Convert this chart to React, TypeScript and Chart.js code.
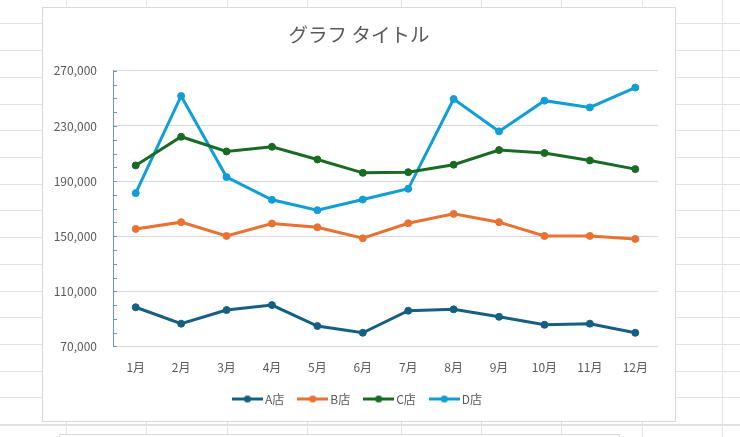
import React, { useEffect, useRef } from "react";
import { Chart, registerables } from "chart.js";

Chart.register(...registerables);

const TITLE = "グラフ タイトル";
const MONTHS = ["1月", "2月", "3月", "4月", "5月", "6月", "7月", "8月", "9月", "10月", "11月", "12月"];
const SERIES_NAMES = ["A店", "B店", "C店", "D店"];
const SERIES_COLORS = ["#156082", "#E97132", "#196B24", "#0F9ED5"];
const A_VALUES = [98400, 86500, 96400, 100000, 84800, 79900, 95900, 96900, 91500, 85700, 86500, 79900];
const B_VALUES = [155300, 160200, 150200, 159200, 156500, 148500, 159400, 166200, 160200, 150200, 150200, 148000];
const C_VALUES = [201400, 222200, 211500, 214900, 205700, 196000, 196500, 201900, 212500, 210400, 205000, 198700];
const D_VALUES = [181300, 251800, 192900, 176400, 168900, 176600, 184400, 249600, 226100, 248400, 243500, 257900];
const Y_MIN = 70000;
const Y_MAX = 270000;
const Y_STEP = 40000;
const Y_MINOR_STEP = 10000;

const FONT = "'Noto Sans CJK JP', 'Noto Sans', sans-serif";
const TEXT_COLOR = "#595959";
const GRID_COLOR = "#d9d9d9";
const AXIS_COLOR = "#6a98b8";
const SHEET_LINE = "#e2e2e2";

const SHEET_ROWS = [23, 50, 77, 104, 130, 157, 184, 210, 237, 264, 291, 317, 344, 371, 397, 424];
const SHEET_COLS = [65.5, 146, 226.5, 306.5, 400.5, 480.5, 561, 641.5, 721.5];

function legendMarker(color: string): HTMLCanvasElement {
  const c = document.createElement("canvas");
  c.width = 31;
  c.height = 9;
  const ctx = c.getContext("2d")!;
  ctx.strokeStyle = color;
  ctx.lineWidth = 3;
  ctx.beginPath();
  ctx.moveTo(0, 4.5);
  ctx.lineTo(31, 4.5);
  ctx.stroke();
  ctx.fillStyle = color;
  ctx.beginPath();
  ctx.arc(15.5, 4.5, 3.6, 0, Math.PI * 2);
  ctx.fill();
  return c;
}

const minorTicks = {
  id: "minorTicks",
  afterDatasetsDraw(chart: any) {
    const y = chart.scales.y;
    const ctx = chart.ctx;
    const left = Math.round(chart.chartArea.left);
    ctx.save();
    ctx.strokeStyle = AXIS_COLOR;
    ctx.lineWidth = 1;
    for (let v = Y_MIN; v <= Y_MAX; v += Y_MINOR_STEP) {
      const py = Math.round(y.getPixelForValue(v)) + 0.5;
      ctx.beginPath();
      ctx.moveTo(left, py);
      ctx.lineTo(left + 4, py);
      ctx.stroke();
    }
    ctx.restore();
  },
};

export default function App() {
  const canvasRef = useRef<HTMLCanvasElement>(null);

  useEffect(() => {
    if (!canvasRef.current) return;
    const allValues = [A_VALUES, B_VALUES, C_VALUES, D_VALUES];
    const chart = new Chart(canvasRef.current, {
      type: "line",
      data: {
        labels: MONTHS,
        datasets: SERIES_NAMES.map((name, i) => ({
          label: name,
          data: allValues[i],
          yAxisID: "y",
          borderColor: SERIES_COLORS[i],
          backgroundColor: SERIES_COLORS[i],
          borderWidth: 3,
          pointRadius: 3.5,
          pointBorderWidth: 1,
          pointStyle: "circle",
          tension: 0,
          fill: false,
        })) as any,
      },
      options: {
        animation: false,
        responsive: true,
        maintainAspectRatio: false,
        layout: { padding: { left: 0, right: 0, top: 0, bottom: 6 } },
        plugins: {
          title: {
            display: true,
            text: TITLE,
            color: TEXT_COLOR,
            font: { family: FONT, size: 19.5, weight: "normal" as any },
            padding: { top: 15, bottom: 24.5 },
          },
          legend: {
            position: "bottom",
            labels: {
              usePointStyle: true,
              pointStyleWidth: 23,
              padding: 17,
              color: TEXT_COLOR,
              font: { family: FONT, size: 12 },
              generateLabels: (ch: any) =>
                ch.data.datasets.map((ds: any, i: number) => ({
                  text: ds.label,
                  fillStyle: ds.borderColor,
                  strokeStyle: ds.borderColor,
                  lineWidth: 0,
                  pointStyle: legendMarker(ds.borderColor),
                  fontColor: TEXT_COLOR,
                  hidden: false,
                  datasetIndex: i,
                })),
            },
          },
          tooltip: { enabled: false },
        },
        scales: {
          x: {
            offset: true,
            grid: { display: false, drawTicks: false },
            border: { display: false },
            ticks: { color: TEXT_COLOR, font: { family: FONT, size: 12 }, padding: 14 },
            afterFit: (s: any) => {
              s.height = 29.6;
            },
          },
          y: {
            position: "left",
            min: Y_MIN,
            max: Y_MAX,
            grid: { color: GRID_COLOR, drawTicks: false, lineWidth: 1 },
            border: { display: true, color: AXIS_COLOR, width: 1 },
            ticks: {
              stepSize: Y_STEP,
              color: TEXT_COLOR,
              font: { family: FONT, size: 12 },
              padding: 16,
              callback: (v: any) => Number(v).toLocaleString("en-US"),
            },
            afterFit: (s: any) => {
              s.width = 70;
            },
          },
          yRightSpace: {
            position: "right",
            display: true,
            min: Y_MIN,
            max: Y_MAX,
            grid: { display: false, drawTicks: false },
            border: { display: false },
            ticks: { display: false },
            afterFit: (s: any) => {
              s.width = 17;
            },
          },
        },
      },
      plugins: [minorTicks],
    });
    return () => chart.destroy();
  }, []);

  return (
    <div style={{ position: "absolute", left: 0, top: 0, width: 740, height: 437, overflow: "hidden", background: "#fff" }}>
      {SHEET_ROWS.map((y) => (
        <div key={"r" + y} style={{ position: "absolute", left: 0, top: y, width: 740, height: y === 424 ? 2 : 1, background: SHEET_LINE }} />
      ))}
      {SHEET_COLS.map((x) => (
        <div key={"c" + x} style={{ position: "absolute", left: Math.round(x), top: 0, width: 1, height: 437, background: SHEET_LINE }} />
      ))}
      <div
        style={{
          position: "absolute",
          left: 59,
          top: 434,
          width: 561,
          height: 20,
          boxSizing: "border-box",
          border: "1px solid " + GRID_COLOR,
          background: "#fff",
        }}
      />
      <div
        style={{
          position: "absolute",
          left: 42,
          top: 7,
          width: 634,
          height: 415,
          boxSizing: "border-box",
          border: "1px solid " + GRID_COLOR,
          background: "#fff",
        }}
      >
        <div style={{ position: "relative", width: 632, height: 413 }}>
          <canvas ref={canvasRef} />
        </div>
      </div>
    </div>
  );
}
